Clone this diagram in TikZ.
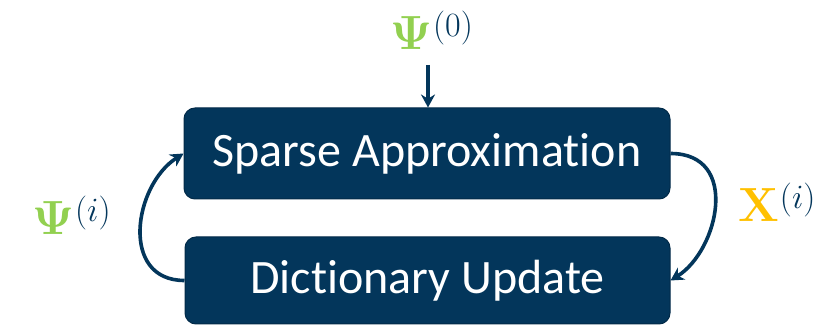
\RequirePackage{fix-cm}
\documentclass[tikz,border=0pt]{standalone}
\usepackage{amsmath,bm}
\usepackage[no-math]{fontspec}
\setmainfont{Carlito}[Ligatures={NoCommon}]
\usetikzlibrary{arrows.meta}
\definecolor{navy}{HTML}{03365B}
\definecolor{navyedge}{HTML}{022A48}
\definecolor{psigreen}{HTML}{92D050}
\definecolor{xyellow}{HTML}{FFC000}
\newcommand\supsc[1]{\hspace{1pt}\raisebox{13pt}{\fontsize{34}{40}\selectfont$#1$}}
\tikzset{
  blockbox/.style={draw=navyedge, line width=1pt, fill=navy, rounded corners=11pt,
    text=white, font=\fontsize{48}{56}\selectfont, inner sep=0pt},
  flow/.style={draw=navy, line width=3.6pt, -{Stealth[length=13pt,width=14pt]}},
  mathlabel/.style={text=navy, font=\fontsize{48}{56}\selectfont, inner sep=0pt, anchor=base west}
}
\begin{document}
\begin{tikzpicture}[x=1pt,y=1pt]
\useasboundingbox (0,0) rectangle (826,326);
\node[blockbox, minimum width=486pt, minimum height=91pt] (top) at (427,172.5) {Sparse Approximation};
\node[blockbox, minimum width=485pt, minimum height=87pt] (bot) at (427.5,45.5) {Dictionary Update};
\coordinate (src) at (428,261);
\draw[flow] (src) -- (top.north -| src);
\draw[flow] (bot.west) .. controls +(-65,0) and +(-50,-32) .. (top.west);
\draw[flow] (top.east) .. controls +(70,0) and +(48,30) .. (bot.east);
\node[mathlabel] (psi0) at (390,276) {$\textcolor{psigreen}{\bm{\Psi}}$\supsc{(0)}};
\node[mathlabel] (psii) at (32,91) {$\textcolor{psigreen}{\bm{\Psi}}$\supsc{(i)}};
\node[mathlabel] (xi) at (738,104) {$\textcolor{xyellow}{\mathbf{X}}$\supsc{(i)}};
\end{tikzpicture}
\end{document}
